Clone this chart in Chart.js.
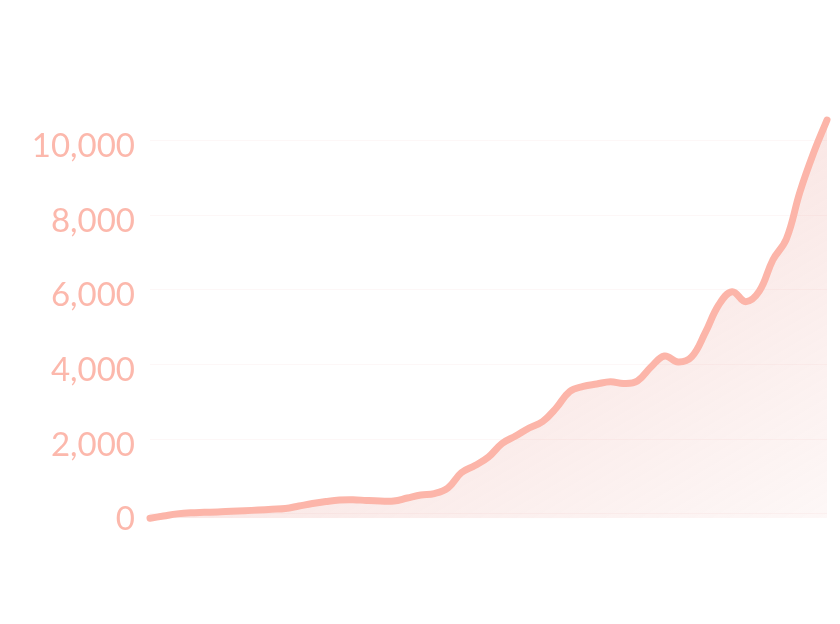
<!DOCTYPE html>
<html>
<head>
<meta charset="utf-8">
<script src="https://cdn.jsdelivr.net/npm/chart.js@4"></script>
<style>
  html, body { margin: 0; padding: 0; background: #ffffff; }
  #wrap { width: 840px; height: 624px; position: relative; }
</style>
</head>
<body>
<div id="wrap"><canvas id="c"></canvas></div>
<script>
const categories = Array.from({length: 51}, (_, i) => String(i + 1));
const seriesValues = [
  -120, -62, -5, 27, 38, 46, 64, 80, 99, 118,
  139, 206, 273, 327, 367, 375, 354, 340, 340, 420,
  500, 540, 690, 1100, 1291, 1519, 1881, 2082, 2296, 2470,
  2832, 3274, 3408, 3475, 3536, 3488, 3555, 3930, 4225, 4064,
  4198, 4841, 5591, 5947, 5680, 5960, 6796, 7359, 8618, 9656,
  10546
];
const tickValues = [0, 2000, 4000, 6000, 8000, 10000];
const yMin = -123;
const yMax = 10546;

const lineColor = 'rgb(252,181,169)';
const labelColor = 'rgb(252,184,172)';

function fillGradient(ctx) {
  const area = ctx.chart.chartArea;
  if (!area) return 'rgba(230,145,135,0.2)';
  const W = area.right - area.left;
  const H = area.bottom - area.top;
  const s = 2 * W * H / (W * W + H * H);
  const g = ctx.chart.ctx.createLinearGradient(area.left, area.top, area.left + H * s, area.top + W * s);
  g.addColorStop(0, 'rgba(230,145,135,0.27)');
  g.addColorStop(0.5, 'rgba(230,145,135,0.22)');
  g.addColorStop(1, 'rgba(230,145,135,0.07)');
  return g;
}

new Chart(document.getElementById('c'), {
  type: 'line',
  data: {
    labels: categories,
    datasets: [{
      data: seriesValues,
      borderColor: lineColor,
      borderWidth: 7,
      borderCapStyle: 'round',
      borderJoinStyle: 'round',
      tension: 0.4,
      pointRadius: 0,
      pointHoverRadius: 0,
      fill: 'start',
      clip: 10,
      backgroundColor: fillGradient
    }]
  },
  options: {
    responsive: true,
    maintainAspectRatio: false,
    animation: false,
    locale: 'en-US',
    layout: { padding: { top: 120, bottom: 105.7, right: 13, left: 0 } },
    plugins: { legend: { display: false }, tooltip: { enabled: false } },
    scales: {
      x: { display: false },
      y: {
        min: yMin,
        max: yMax,
        afterBuildTicks: (scale) => { scale.ticks = tickValues.map(v => ({ value: v })); },
        afterFit: (scale) => { scale.width = 150; },
        border: { display: false },
        grid: { color: 'rgba(240,200,195,0.14)', drawTicks: false, lineWidth: 1 },
        ticks: {
          color: labelColor,
          padding: 15,
          labelOffset: 6,
          font: { family: 'Lato', size: 33, weight: 'normal' }
        }
      }
    }
  }
});
</script>
</body>
</html>
